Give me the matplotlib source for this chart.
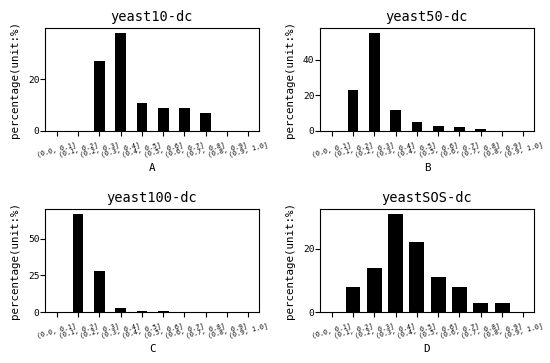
import matplotlib
matplotlib.use("Agg")
import matplotlib.pyplot as plt

plt.rcParams["font.family"] = ["DejaVu Sans Mono", "Noto Sans CJK SC"]
plt.rcParams["axes.unicode_minus"] = False

# 구간 라벨
bins = ["(0.0, 0.1]", "(0.1, 0.2]", "(0.2, 0.3]", "(0.3, 0.4]", "(0.4, 0.5]",
        "(0.5, 0.6]", "(0.6, 0.7]", "(0.7, 0.8]", "(0.8, 0.9]", "(0.9, 1.0]"]

# 각 데이터셋 비율 (%)
yeast10 = [0, 0, 27, 38, 11, 9, 9, 7, 0, 0]
yeast50 = [0, 23, 55, 12, 5, 3, 2, 1, 0, 0]
yeast100 = [0, 67, 28, 3, 1, 1, 0, 0, 0, 0]
yeastSOS = [0, 8, 14, 31, 22, 11, 8, 3, 3, 0]

titles = ["yeast10-dc", "yeast50-dc", "yeast100-dc", "yeastSOS-dc"]
letters = ["A", "B", "C", "D"]
series = [yeast10, yeast50, yeast100, yeastSOS]
widths = [0.5, 0.5, 0.5, 0.7]
yticks = [[0, 20], [0, 20, 40], [0, 25, 50], [0, 20]]

fig = plt.figure(figsize=(5.5, 3.63), dpi=100)
# 축 위치 (픽셀)
boxes = [(45, 28), (320, 28), (45, 209), (320, 209)]
W, H = 550, 363

for i in range(4):
    x0, y0 = boxes[i]
    ax = fig.add_axes([x0 / W, 1 - (y0 + 103) / H, 214 / W, 103 / H])
    pos = list(range(len(bins)))
    ax.bar(pos, series[i], width=widths[i], color="black")
    ax.set_xlim(-0.55, 9.5)
    ax.set_xticks(pos)
    ax.set_xticklabels(bins, rotation=15, fontsize=4.8)
    ax.set_yticks(yticks[i])
    ax.tick_params(axis="y", labelsize=6.8, pad=0.5)
    ax.set_title(titles[i], fontsize=9.8, pad=5)
    ax.set_ylabel("percentage(unit:%)", fontsize=7.8, labelpad=6)
    ax.set_xlabel(letters[i], fontsize=7.8, labelpad=4)

fig.savefig("out.png", dpi=100)
